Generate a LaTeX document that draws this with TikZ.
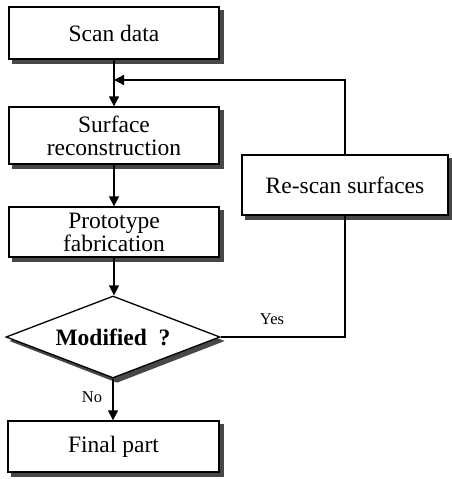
\documentclass[tikz,border=0pt]{standalone}
\usepackage{fontspec}
\setmainfont{Liberation Serif}
\usetikzlibrary{arrows.meta,shapes.geometric,backgrounds}
\begin{document}
\begin{tikzpicture}[x=1pt,y=-1pt,
  shadowfill/.style={fill=black!72},
  procbox/.style={draw,line width=1.3pt,fill=white,minimum width=210pt,inner sep=0pt,
    align=center,font=\fontsize{23.5}{23}\selectfont},
  decision/.style={draw,diamond,line width=1.3pt,fill=white,minimum width=214pt,
    minimum height=82pt,aspect=2.6,inner sep=0pt,font=\bfseries\fontsize{23.5}{23}\selectfont},
  conn/.style={line width=1.3pt},
  arr/.style={conn,-{Triangle[length=10pt,width=10pt]}},
  lbl/.style={font=\fontsize{16.5}{16}\selectfont,inner sep=0pt}]
\useasboundingbox (0,0) rectangle (451,479);
\node[procbox,minimum height=52pt] (scan) at (114,33) {Scan data};
\node[procbox,minimum height=57pt] (surf) at (114,135.5) {Surface\\reconstruction};
\node[procbox,minimum height=50pt] (proto) at (114,232) {Prototype\\fabrication};
\node[procbox,minimum width=206pt,minimum height=60pt] (rescan) at (345,185) {Re-scan surfaces};
\node[decision] (dec) at (113,337) {Modified\ \ ?};
\node[procbox,minimum width=211pt,minimum height=51pt] (final) at (113.5,446.5) {Final part};
\begin{scope}[on background layer]
  \foreach \n in {scan,surf,proto,rescan,final}
    \fill[shadowfill] ([shift={(4,4)}]\n.south west) rectangle ([shift={(4,4)}]\n.north east);
  \fill[shadowfill] ([shift={(4,4)}]dec.north) -- ([shift={(4,4)}]dec.east)
    -- ([shift={(4,4)}]dec.south) -- ([shift={(4,4)}]dec.west) -- cycle;
\end{scope}
\coordinate (j) at (114,80);
\draw[arr] (scan.south) -- (surf.north);
\draw[arr] (rescan.north) |- (j);
\draw[arr] (surf.south) -- (proto.north);
\draw[arr] (proto.south) -- (proto.south |- dec.north);
\draw[conn] (dec.east) -| (rescan.south);
\draw[arr] (dec.south) -- (dec.south |- final.north);
\node[lbl] (yes) at (272,319) {Yes};
\node[lbl] (no) at (92,397) {No};
\end{tikzpicture}
\end{document}
